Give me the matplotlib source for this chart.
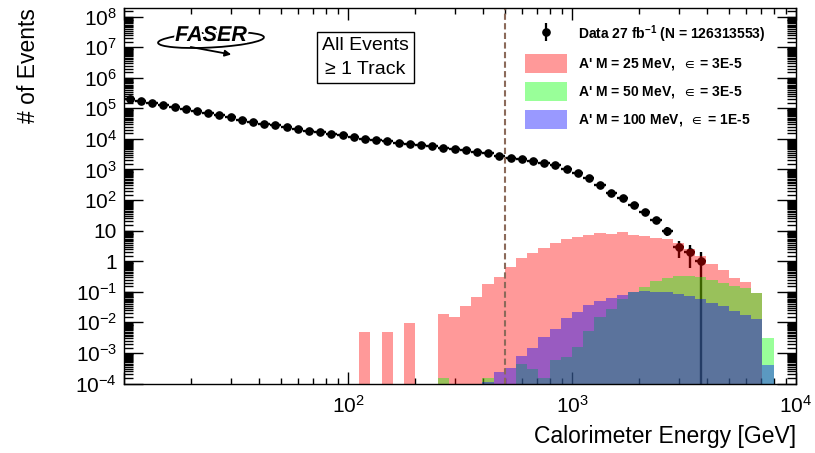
import numpy as np
import matplotlib
matplotlib.use("Agg")
import matplotlib.pyplot as plt
from matplotlib.lines import Line2D
from matplotlib.patches import Patch, Rectangle, Arc
from matplotlib.legend_handler import HandlerTuple
from matplotlib.ticker import FixedLocator, FuncFormatter, LogLocator, NullFormatter
import matplotlib.patheffects as pe

plt.rcParams['font.family'] = ['Liberation Sans', 'DejaVu Sans']
plt.rcParams['mathtext.fontset'] = 'custom'
plt.rcParams['mathtext.rm'] = 'Liberation Sans'
plt.rcParams['mathtext.it'] = 'Liberation Sans:italic'
plt.rcParams['mathtext.bf'] = 'Liberation Sans:bold'
plt.rcParams['mathtext.default'] = 'regular'

# ---------------- data ----------------
E_MIN, E_MAX, N_BINS = 10.0, 1.0e4, 60
E_CUT = 500.0

data_counts = [200000, 173800, 151400, 131800, 112200, 95500, 81300, 69200, 58900, 50100,
               42700, 36300, 31600, 27500, 24000, 20900, 18200, 16200, 14500, 12900,
               11500, 10200, 9120, 8320, 7520, 6920, 6310, 5750, 5130, 4680,
               4270, 3720, 3390, 2820, 2450, 2140, 1900, 1660, 1380, 1050,
               794, 525, 309, 174, 117, 68, 40, 23, 10, 3,
               2, 1, 0, 0, 0, 0, 0, 0, 0, 0]

sig_25 = [0, 0, 0, 0, 0, 0, 0, 0, 0, 0,
          0, 0, 0, 0, 0, 0, 0, 0, 0, 0,
          0, 0.0048, 0, 0.0048, 0, 0.0096, 0, 0, 0.019, 0.0145,
          0.035, 0.068, 0.18, 0.30, 0.65, 1.26, 1.82, 2.75, 4.0, 5.2,
          6.2, 7.4, 8.1, 7.6, 8.9, 7.4, 6.9, 5.9, 5.2, 3.8,
          2.5, 1.45, 0.79, 0.51, 0.28, 0.21, 0.09, 0, 0, 0]

sig_50 = [0, 0, 0, 0, 0, 0, 0, 0, 0, 0,
          0, 0, 0, 0, 0, 0, 0, 0, 0, 0,
          0, 0, 0, 0, 0, 0, 0, 0, 1.5e-4, 0,
          0, 0, 1.5e-4, 0, 0, 4.5e-4, 3.0e-4, 1.5e-4, 6.0e-4, 7.5e-4,
          1.6e-3, 5.2e-3, 0.0145, 0.027, 0.059, 0.10, 0.14, 0.23, 0.28, 0.33,
          0.32, 0.30, 0.245, 0.19, 0.155, 0.13, 0.089, 0.0031, 0, 0]

sig_100 = [0, 0, 0, 0, 0, 0, 0, 0, 0, 0,
           0, 0, 0, 0, 0, 0, 0, 0, 0, 0,
           0, 0, 0, 0, 0, 0, 0, 0, 0, 0,
           0, 0, 1.15e-4, 2.3e-4, 3.2e-4, 8.1e-4, 1.45e-3, 3.2e-3, 6.0e-3, 0.0135,
           0.022, 0.037, 0.050, 0.062, 0.079, 0.10, 0.107, 0.102, 0.098, 0.087,
           0.074, 0.059, 0.043, 0.033, 0.024, 0.018, 0.0126, 4.0e-4, 0, 0]

labels = ['Data 27 fb$^{-1}$ (N = 126313553)',
          "A' M = 25 MeV,  $\\in$ = 3E-5",
          "A' M = 50 MeV,  $\\in$ = 3E-5",
          "A' M = 100 MeV,  $\\in$ = 1E-5"]
sig_colors = [(1, 0, 0), (0, 1, 0), (0, 0, 1)]
SIG_ALPHA = 0.4

# ---------------- figure ----------------
W, H = 815, 453
fig = plt.figure(figsize=(W / 100, H / 100), dpi=100)
ax_l, ax_r, ax_t, ax_b = 124, 796, 8, 383.5
ax = fig.add_axes([ax_l / W, 1 - ax_b / H, (ax_r - ax_l) / W, (ax_b - ax_t) / H])
ax.set_xscale('log')
ax.set_yscale('log')

edges = np.logspace(np.log10(E_MIN), np.log10(E_MAX), N_BINS + 1)
centers = 0.5 * (edges[:-1] + edges[1:])

counts = np.array(data_counts, dtype=float)
m = counts > 0
err = np.sqrt(counts)
low = counts - np.maximum(counts - err, 1e-9)
ax.errorbar(centers[m], counts[m],
            xerr=[(centers - edges[:-1])[m], (edges[1:] - centers)[m]],
            yerr=[low[m], err[m]],
            fmt='o', color='black', ms=5.2, elinewidth=1.7, capsize=0, zorder=2.0)

for vals, col in zip([sig_25, sig_50, sig_100], sig_colors):
    v = np.array(vals, dtype=float)
    v_draw = np.where(v > 0, v, 1e-9)
    ax.stairs(v_draw, edges, baseline=1e-9, fill=True, color=col,
              alpha=SIG_ALPHA, linewidth=0, zorder=2.1)

ax.axvline(E_CUT, color='#8b6a5a', lw=1.5, dashes=(3, 1.6), zorder=2.3)

ax.set_xlim(E_MIN, E_MAX)
ax.set_ylim(1e-4, 10 ** 8.28)

# ticks
ax.xaxis.set_major_locator(FixedLocator([10, 100, 1000, 10000]))
ax.xaxis.set_major_formatter(FuncFormatter(
    lambda v, p: '' if v < 50 else '$10^{%d}$' % int(round(np.log10(v)))))
ax.xaxis.set_minor_locator(LogLocator(base=10, subs=np.arange(2, 10), numticks=50))
ax.xaxis.set_minor_formatter(NullFormatter())

def yfmt(v, p):
    e = int(round(np.log10(v)))
    if e == 0:
        return '1'
    if e == 1:
        return '10'
    return '$10^{%d}$' % e

ax.yaxis.set_major_locator(FixedLocator(10.0 ** np.arange(-4, 9)))
ax.yaxis.set_major_formatter(FuncFormatter(yfmt))
ax.yaxis.set_minor_locator(LogLocator(base=10, subs=np.arange(1.5, 10, 0.5), numticks=100))
ax.yaxis.set_minor_formatter(NullFormatter())

ax.tick_params(which='both', direction='in', top=True, right=True, width=1.0, colors='black')
ax.tick_params(axis='x', which='major', length=8.6, labelsize=15, pad=8)
ax.tick_params(axis='x', which='minor', length=4.3)
ax.tick_params(axis='y', which='major', length=13.7, labelsize=15, pad=5)
ax.tick_params(axis='y', which='minor', length=6.5)
for s in ax.spines.values():
    s.set_linewidth(1.0)

ax.set_xlabel('Calorimeter Energy [GeV]', fontsize=16.5, loc='right')
ax.xaxis.set_label_coords(1.0, -0.11)
ax.set_ylabel('# of Events', fontsize=16.5, loc='top')
ax.yaxis.set_label_coords(-0.125, 1.0)

# legend
h_data = (Line2D([], [], color='black', marker='|', ms=13, mew=1.6, ls='none'),
          Line2D([], [], color='black', marker='o', ms=5.2, ls='none'))
h_sig = [Patch(facecolor=c + (SIG_ALPHA,), edgecolor='none') for c in sig_colors]
ax.legend([h_data] + h_sig, labels,
          handler_map={tuple: HandlerTuple(ndivide=1)},
          loc='upper left', bbox_to_anchor=(525 / W, 1 - 23 / H),
          bbox_transform=fig.transFigure, frameon=False,
          prop={'weight': 'bold', 'size': 10},
          handlelength=3.0, handleheight=1.73, labelspacing=0.65,
          handletextpad=0.8, borderpad=0, borderaxespad=0)

# overlay in pixel coordinates for logo and label box
ov = fig.add_axes([0, 0, 1, 1], zorder=10)
ov.set_xlim(0, W)
ov.set_ylim(H, 0)
ov.axis('off')

ov.add_patch(Rectangle((316.7, 31.7), 97.3, 51, fill=False, ec='black', lw=1.0))
ov.text(365.3, 45.5, 'All Events', ha='center', va='center', fontsize=14)
ov.text(365.3, 69.5, '\u2265 1 Track', ha='center', va='center', fontsize=14)

ov.add_patch(Arc((211, 40), 106, 15, angle=-3, theta1=0, theta2=360, lw=1.3, color='black'))
ov.annotate('', xy=(234, 55), xytext=(188, 46.5),
            arrowprops=dict(arrowstyle='-|>', lw=1.3, color='black', mutation_scale=9))
ov.text(211, 35.5, 'FASER', ha='center', va='center', fontsize=15.5,
        fontweight='heavy', fontstyle='italic',
        path_effects=[pe.withStroke(linewidth=3, foreground='white')])

fig.savefig('out.png', dpi=100)
